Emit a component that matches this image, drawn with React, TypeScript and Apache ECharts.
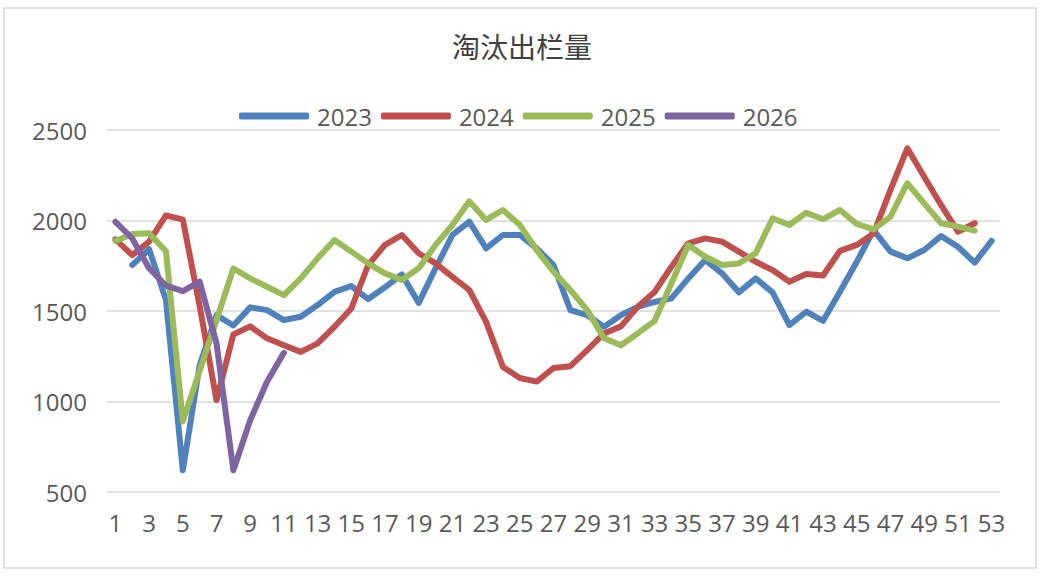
import React, { useEffect, useRef } from "react";
import * as echarts from "echarts";

const weeks: string[] = [
  "1","2","3","4","5","6","7","8","9","10","11","12","13","14","15","16","17","18","19","20",
  "21","22","23","24","25","26","27","28","29","30","31","32","33","34","35","36","37","38","39","40",
  "41","42","43","44","45","46","47","48","49","50","51","52","53",
];

const s2023: (number | null)[] = [
  null, 1754, 1841, 1560, 620, 1200, 1477, 1420, 1520, 1505,
  1450, 1468, 1533, 1606, 1638, 1566, 1631, 1702, 1545, 1736,
  1920, 1994, 1846, 1920, 1920, 1846, 1754, 1505, 1477, 1413,
  1477, 1523, 1550, 1570, 1680, 1782, 1708, 1603, 1680, 1603,
  1422, 1496, 1446, 1606, 1772, 1947, 1828, 1791, 1837, 1914,
  1855, 1767, 1887,
];

const s2024: number[] = [
  1896, 1809, 1883, 2028, 2005, 1527, 1007, 1370, 1415, 1349,
  1311, 1274, 1321, 1413, 1514, 1754, 1865, 1920, 1819, 1763,
  1689, 1616, 1440, 1191, 1130, 1110, 1185, 1195, 1284, 1376,
  1415, 1523, 1605, 1745, 1874, 1901, 1883, 1828, 1772, 1726,
  1662, 1704, 1696, 1832, 1865, 1929, 2169, 2399, 2242, 2086,
  1938, 1985,
];

const s2025: number[] = [
  1887, 1925, 1929, 1830, 890, 1170, 1450, 1735, 1680, 1634,
  1588, 1680, 1791, 1892, 1828, 1763, 1708, 1671, 1736, 1865,
  1975, 2106, 2003, 2058, 1975, 1837, 1717, 1616, 1505, 1349,
  1311, 1376, 1445, 1653, 1865, 1800, 1754, 1763, 1819, 2012,
  1975, 2043, 2007, 2058, 1981, 1951, 2021, 2206, 2095, 1985,
  1966, 1944,
];

const s2026: number[] = [1993, 1901, 1736, 1640, 1610, 1662, 1321, 620, 897, 1109, 1269];

const yTicks: number[] = [500, 1000, 1500, 2000, 2500];

const seriesNames = ["2023", "2024", "2025", "2026"];
const seriesColors = ["#4f81bd", "#c0504d", "#9bbb59", "#8064a2"];
const seriesData = [s2023, s2024, s2025, s2026];

export default function App() {
  const ref = useRef<HTMLDivElement>(null);
  useEffect(() => {
    if (!ref.current) return;
    const chart = echarts.init(ref.current, undefined, { renderer: "svg" });
    const font = "'Open Sans', 'Noto Sans', sans-serif";
    chart.setOption({
      animation: false,
      backgroundColor: "#ffffff",
      title: {
        text: "淘汰出栏量",
        left: "center",
        top: 27,
        textStyle: {
          fontFamily: "'Noto Sans CJK SC', sans-serif",
          fontSize: 28,
          fontWeight: "normal",
          color: "#404040",
        },
      },
      graphic: [
        {
          type: "rect",
          shape: { x: 4, y: 8, width: 1032, height: 560 },
          style: { fill: "none", stroke: "#d9d9d9", lineWidth: 1.5 },
          silent: true,
        },
      ],
      legend: {
        left: 239,
        top: 104,
        padding: 0,
        itemWidth: 70,
        itemHeight: 7,
        itemGap: 9,
        icon: "roundRect",
        data: seriesNames,
        textStyle: {
          fontFamily: font,
          fontSize: 24,
          color: "#595959",
          padding: [0, 0, 0, 3],
        },
      },
      grid: { left: 107, right: 44, top: 130, bottom: 86 },
      xAxis: {
        type: "category",
        data: weeks,
        boundaryGap: true,
        axisLine: { show: false },
        axisTick: { show: false },
        axisLabel: {
          interval: 1,
          margin: 18,
          fontFamily: font,
          fontSize: 24,
          color: "#595959",
        },
      },
      yAxis: {
        type: "value",
        min: yTicks[0],
        max: yTicks[yTicks.length - 1],
        interval: yTicks[1] - yTicks[0],
        axisLine: { show: false },
        axisTick: { show: false },
        axisLabel: {
          margin: 20,
          fontFamily: font,
          fontSize: 24,
          color: "#595959",
          formatter: (v: number) => String(v),
        },
        splitLine: { lineStyle: { color: "#d9d9d9", width: 1.5 } },
      },
      series: seriesNames.map((name, i) => ({
        name,
        type: "line",
        data: seriesData[i],
        showSymbol: false,
        symbol: "none",
        connectNulls: false,
        color: seriesColors[i],
        lineStyle: { width: 6, color: seriesColors[i], cap: "round", join: "round" },
        itemStyle: { color: seriesColors[i] },
      })),
    });
    return () => chart.dispose();
  }, []);
  return (
    <div
      ref={ref}
      style={{ position: "absolute", left: 0, top: 0, width: 1044, height: 578 }}
    />
  );
}
